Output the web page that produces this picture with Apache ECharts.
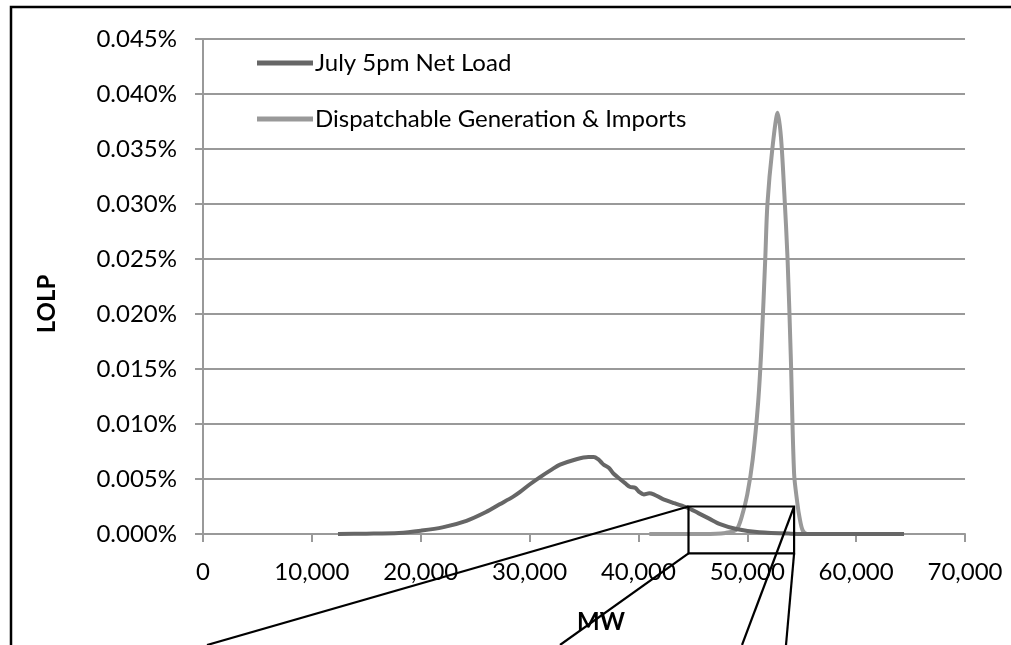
<!DOCTYPE html>
<html>
<head>
<meta charset="utf-8">
<script src="https://cdn.jsdelivr.net/npm/echarts@6/dist/echarts.min.js"></script>
<style>
  html, body { margin: 0; padding: 0; background: #fff; }
  #chart { width: 1011px; height: 645px; }
</style>
</head>
<body>
<div id="chart"></div>
<script>
// values (MW, LOLP in %)
var netLoadMW   = [12400, 15000, 18000, 20000, 22000, 24200, 26000, 27250, 28500, 29100, 30000, 31000, 32100, 32800, 34300, 35400, 35900, 36300, 36600, 36800, 37300, 37700, 38300, 38800, 39200, 39700, 40100, 40500, 41000, 41400, 42200, 43300, 44500, 45500, 46500, 47500, 49000, 51100, 54000, 57000, 64400];
var netLoadLOLP = [0, 0.00003, 0.0001, 0.0003, 0.0006, 0.0012, 0.0020, 0.0027, 0.0034, 0.0038, 0.0045, 0.0052, 0.0059, 0.0063, 0.0068, 0.0070, 0.0070, 0.0068, 0.0065, 0.0063, 0.0060, 0.0055, 0.0050, 0.0046, 0.0043, 0.0042, 0.0038, 0.0036, 0.0037, 0.0036, 0.0032, 0.0028, 0.0024, 0.0019, 0.0014, 0.0009, 0.00045, 0.00015, 0.00003, 0, 0];

var dispatchMW   = [41000, 46000, 48000, 49000, 49500, 50000, 50500, 51000, 51300, 51650, 51850, 52300, 52800, 53100, 53400, 53700, 54000, 54300, 54600, 54800, 55100, 55500, 58000];
var dispatchLOLP = [0, 0, 0.0001, 0.0004, 0.0016, 0.0036, 0.0068, 0.012, 0.017, 0.025, 0.030, 0.035, 0.0383, 0.036, 0.031, 0.025, 0.016, 0.0055, 0.0028, 0.0015, 0.0003, 0, 0];

var seriesNames = ['July 5pm Net Load', 'Dispatchable Generation & Imports'];

// zoom box drawn on the figure (MW, %) and where its leader lines leave the page (px)
var boxMW = [44600, 54300];
var boxLOLP = [0.0025, -0.00176];
var leaderEnds = [[207, 645], [560, 645], [742, 645], [786, 645]];

function pairs(xs, ys) {
  var out = [];
  for (var i = 0; i < xs.length; i++) out.push([xs[i], ys[i]]);
  return out;
}

var font = 'Lato, "Open Sans", sans-serif';
var chart = echarts.init(document.getElementById('chart'));

var yBase = {
  type: 'value', min: 0, max: 0.045, interval: 0.005, position: 'left'
};

chart.setOption({
  animation: false,
  backgroundColor: '#fff',
  grid: { left: 203, right: 46, top: 39, bottom: 111 },
  legend: {
    orient: 'vertical',
    left: 257, top: 51, padding: 0,
    itemWidth: 56, itemHeight: 5, itemGap: 32,
    icon: 'rect',
    textStyle: { fontFamily: font, fontSize: 24, color: '#000', lineHeight: 24, padding: [0, 0, 0, -3] },
    data: seriesNames
  },
  xAxis: {
    type: 'value', min: 0, max: 70000, interval: 10000,
    axisLine: { show: true, onZero: false, lineStyle: { color: '#999', width: 2 } },
    axisTick: { show: true, length: 8, lineStyle: { color: '#999', width: 2 } },
    axisLabel: {
      margin: 26, fontFamily: font, fontSize: 24, color: '#000',
      formatter: function (v) { return v.toLocaleString('en-US'); }
    },
    splitLine: { show: false }
  },
  yAxis: [
    Object.assign({}, yBase, {
      axisLine: { show: true, lineStyle: { color: '#999', width: 2 } },
      axisTick: { show: true, length: 8, lineStyle: { color: '#999', width: 2 } },
      axisLabel: {
        margin: 26, fontFamily: font, fontSize: 24, color: '#000',
        formatter: function (v) { return v.toFixed(3) + '%'; }
      },
      splitLine: { show: true, lineStyle: { color: '#999', width: 2 } }
    }),
    Object.assign({}, yBase, {
      axisLine: { show: false },
      axisTick: { show: true, inside: true, length: 6, lineStyle: { color: '#999', width: 2 } },
      axisLabel: { show: false },
      splitLine: { show: false }
    })
  ],
  series: [
    {
      name: seriesNames[0], type: 'line', yAxisIndex: 0,
      data: pairs(netLoadMW, netLoadLOLP),
      showSymbol: false, symbol: 'none', smooth: 0.3,
      itemStyle: { color: '#666' },
      lineStyle: { color: '#666', width: 4 },
      z: 3
    },
    {
      name: seriesNames[1], type: 'line', yAxisIndex: 0,
      data: pairs(dispatchMW, dispatchLOLP),
      showSymbol: false, symbol: 'none', smooth: 0.3,
      itemStyle: { color: '#999' },
      lineStyle: { color: '#999', width: 4 },
      z: 2
    }
  ]
});

// callout box and leader lines, placed through the chart's own scales
var tl = chart.convertToPixel({ gridIndex: 0 }, [boxMW[0], boxLOLP[0]]);
var br = chart.convertToPixel({ gridIndex: 0 }, [boxMW[1], boxLOLP[1]]);
var corners = [[tl[0], tl[1]], [tl[0], br[1]], [br[0], tl[1]], [br[0], br[1]]];

var graphics = [
  { type: 'rect', silent: true, z: 100,
    shape: { x: 11, y: 7, width: 1100, height: 800 },
    style: { fill: 'none', stroke: '#000', lineWidth: 2.5 } },
  { type: 'rect', silent: true, z: 100,
    shape: { x: tl[0], y: tl[1], width: br[0] - tl[0], height: br[1] - tl[1] },
    style: { fill: 'none', stroke: '#000', lineWidth: 2.2 } },
  { type: 'text', silent: true, z: 100, x: 47, y: 304, rotation: Math.PI / 2,
    style: { text: 'LOLP', fontFamily: font, fontSize: 24, fontWeight: 'bold', fill: '#000', align: 'center', verticalAlign: 'middle' } },
  { type: 'text', silent: true, z: 100, x: 601, y: 622,
    style: { text: 'MW', fontFamily: font, fontSize: 24, fontWeight: 'bold', fill: '#000', align: 'center', verticalAlign: 'middle' } }
];
for (var i = 0; i < corners.length; i++) {
  graphics.push({
    type: 'line', silent: true, z: 100,
    shape: { x1: corners[i][0], y1: corners[i][1], x2: leaderEnds[i][0], y2: leaderEnds[i][1] },
    style: { stroke: '#000', lineWidth: 2.2 }
  });
}
chart.setOption({ graphic: graphics });
</script>
</body>
</html>
